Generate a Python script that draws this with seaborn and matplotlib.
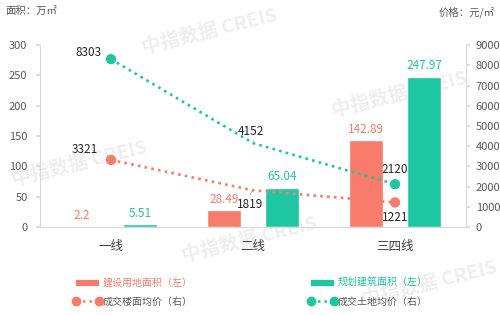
import matplotlib
matplotlib.use("Agg")
import matplotlib.pyplot as plt
import seaborn as sns
import pandas as pd
from matplotlib.lines import Line2D

categories = ["一线", "二线", "三四线"]
land_area = [2.2, 28.49, 142.89]        # 建设用地面积（左）
build_area = [5.51, 65.04, 247.97]      # 规划建筑面积（左）
floor_price = [3321, 1819, 1221]        # 成交楼面均价（右）
land_price = [8303, 4152, 2120]         # 成交土地均价（右）
left_ticks = [0, 50, 100, 150, 200, 250, 300]
right_ticks = [0, 1000, 2000, 3000, 4000, 5000, 6000, 7000, 8000, 9000]

RED = "#F87B6C"
GREEN = "#1FC6A2"
TXT = "#595959"
GRID = "#D9D9D9"

sns.set_theme(style="white")
plt.rcParams["font.family"] = ["Noto Sans CJK SC", "DejaVu Sans"]

fig = plt.figure(figsize=(5, 3.15), dpi=100)

# faint watermarks (background)
wm = dict(color="#EFEFEF", fontsize=14, fontweight="bold", rotation=14,
          ha="center", va="center", zorder=-10)
for (x, y) in [(0.42, 0.10), (0.16, 0.52), (0.80, 0.30), (0.50, 0.76), (0.86, 0.90)]:
    fig.text(x, 1 - y, "中指数据 CREIS", **wm)

ax = fig.add_axes([0.08, 0.279, 0.852, 0.578])
ax.patch.set_alpha(0)

bars = pd.DataFrame({
    "cat": categories * 2,
    "val": land_area + build_area,
    "series": ["建设用地面积（左）"] * 3 + ["规划建筑面积（左）"] * 3,
})
sns.barplot(data=bars, x="cat", y="val", hue="series", palette=[RED, GREEN],
            width=0.816, gap=0.41, ax=ax, legend=False, saturation=1, zorder=2)
for cont, col in zip(ax.containers, [RED, GREEN]):
    ax.bar_label(cont, labels=[f"{v:g}" for v in cont.datavalues], padding=3,
                 color=col, fontsize=8.5)

ax.set_ylim(0, 300)
ax.set_yticks(left_ticks)
ax.set_xlim(-0.5, 2.5)
ax.set_xlabel("")
ax.set_ylabel("")
ax.tick_params(axis="y", labelsize=8, colors=TXT, length=3, color=GRID, pad=6)
ax.tick_params(axis="x", labelsize=9, colors="#404040", length=0, pad=9)
for s in ["top", "right"]:
    ax.spines[s].set_visible(False)
for s in ["left", "bottom"]:
    ax.spines[s].set_color(GRID)
    ax.spines[s].set_linewidth(0.8)

ax2 = ax.twinx()
ax2.set_ylim(0, 9000)
ax2.set_yticks(right_ticks)
ax2.tick_params(axis="y", labelsize=8, colors=TXT, length=3, color=GRID, pad=4)
for s in ["top", "left", "bottom"]:
    ax2.spines[s].set_visible(False)
ax2.spines["right"].set_color(GRID)
ax2.spines["right"].set_linewidth(0.8)

xs = list(range(len(categories)))
lines = pd.DataFrame({"x": xs * 2, "y": floor_price + land_price,
                      "s": ["楼面"] * 3 + ["土地"] * 3})
sns.lineplot(data=lines, x="x", y="y", hue="s", palette=[RED, GREEN], ax=ax2,
             linestyle=(0, (1, 1.6)), linewidth=1.9, legend=False, zorder=3)
ends = lines[lines["x"].isin([xs[0], xs[-1]])]
sns.scatterplot(data=ends, x="x", y="y", hue="s", palette=[RED, GREEN], ax=ax2,
                s=55, edgecolor="none", legend=False, zorder=4)
ax2.set_xlabel("")
ax2.set_ylabel("")

offsets_floor = [(-26, 10), (-3, -14), (0, -15)]
offsets_land = [(-22, 7), (-2, 12), (0, 15)]
for vals, offs in [(floor_price, offsets_floor), (land_price, offsets_land)]:
    for x, v, o in zip(xs, vals, offs):
        ax2.annotate(f"{v}", xy=(x, v), xytext=o, textcoords="offset pixels",
                     ha="center", va="center", fontsize=8.5, color="#262626",
                     arrowprops=dict(arrowstyle="-", color="#A6A6A6", lw=0.6,
                                     shrinkA=5, shrinkB=4,
                                     connectionstyle="arc3,rad=-0.3"))

fig.text(0.01, 0.965, "面积：万㎡", fontsize=7.5, color=TXT, ha="left", va="center")
fig.text(0.99, 0.96, "价格：元/㎡", fontsize=7.5, color=TXT, ha="right", va="center")

handles = [
    Line2D([], [], color=RED, lw=4.5, solid_capstyle="butt"),
    Line2D([], [], color=RED, lw=1.8, linestyle=(0, (1, 1.6)), marker="o", markersize=6),
    Line2D([], [], color=GREEN, lw=4.5, solid_capstyle="butt"),
    Line2D([], [], color=GREEN, lw=1.8, linestyle=(0, (1, 1.6)), marker="o", markersize=6),
]
labels = ["建设用地面积（左）", "成交楼面均价（右）", "规划建筑面积（左）", "成交土地均价（右）"]
leg = fig.legend(handles, labels, loc="center", bbox_to_anchor=(0.5, 0.072), ncol=2,
                 frameon=False, fontsize=7.2, numpoints=2, handlelength=2.9,
                 handletextpad=0.1, columnspacing=11.5, labelspacing=0.85)
for t, c in zip(leg.get_texts(), [RED, "#595959", GREEN, "#595959"]):
    t.set_color(c)

fig.savefig("out.png", dpi=100)
